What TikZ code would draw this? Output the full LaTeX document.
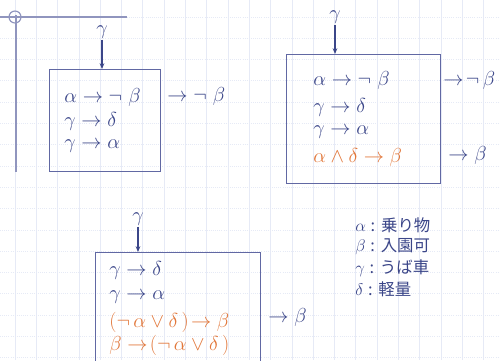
\documentclass[tikz,border=0pt]{standalone}
\usepackage{fontspec}
\newfontfamily\jpfont{Noto Sans CJK JP}
\usepackage{tikz}
\usetikzlibrary{calc,positioning,arrows.meta}
\definecolor{ink}{HTML}{3B4689}
\definecolor{hot}{HTML}{E2773A}
\definecolor{gridc}{HTML}{E6EAF6}
\definecolor{framec}{HTML}{6168A3}

\begin{document}
\begin{tikzpicture}[x=0.03cm,y=-0.03cm]

     \tikzstyle{every node}=[text=ink,inner sep=1pt,font=\fontsize{17.5}{21}\selectfont]
     \tikzstyle{box}=[draw=framec,line width=1.2pt,anchor=north west,inner sep=0pt]
     \tikzstyle{row}=[anchor=west]
     \tikzstyle{feed}=[draw=ink,line width=0.9pt,-{Stealth[length=5pt,width=4pt]}]
     \tikzstyle{key}=[anchor=west,font=\fontsize{14}{18}\selectfont\jpfont]
     \useasboundingbox (0,0) rectangle (500,360);
     \fill[white] (0,0) rectangle (500,360);

     % paper grid
     \foreach \k in {0,...,23}
       \draw[gridc,line width=0.6pt] (15+21.3*\k,0) -- (15+21.3*\k,360);
     \foreach \k in {-1,...,16}
       \draw[gridc,line width=0.8pt,densely dotted] (0,17+21.3*\k) -- (500,17+21.3*\k);
     \draw[framec!70,line width=1pt] (0,17) -- (127,17);
     \draw[framec!70,line width=1pt] (16,15) -- (16,172);
     \draw[framec!70,line width=1pt] (15,17) circle [radius=6];

     % first box
     \node[box,minimum width=3.33cm,minimum height=3.06cm] at (49,69)(box1){};
     \node at ($(box1.north west)+(14,28)$)[row](r11){$\alpha\rightarrow\neg\ \beta$};
     \node at ($(box1.north west)+(14,52)$)[row](r12){$\gamma\rightarrow\delta$};
     \node at ($(box1.north west)+(14,77)$)[row](r13){$\gamma\rightarrow\alpha$};
     \node at (166,96)[row](out1){$\rightarrow\neg\ \beta$};
     \node at (102,32)(gam1){$\gamma$};
     \draw[feed](gam1.south)--(gam1.south|-box1.north);

     % second box
     \node[box,minimum width=4.62cm,minimum height=3.87cm] at (286,54)(box2){};
     \node at ($(box2.north west)+(26,26)$)[row](r21){$\alpha\rightarrow\neg\ \beta$};
     \node at ($(box2.north west)+(26,53)$)[row](r22){$\gamma\rightarrow\delta$};
     \node at ($(box2.north west)+(26,78)$)[row](r23){$\gamma\rightarrow\alpha$};
     \node at ($(box2.north west)+(26,103)$)[row,text=hot](r24){$\alpha\wedge\delta\rightarrow\beta$};
     \node at (442,80)[row](out21){$\rightarrow\!\neg\,\beta$};
     \node at (447,155)[row](out22){$\rightarrow\beta$};
     \node at (335,17)(gam2){$\gamma$};
     \draw[feed](gam2.south)--(gam2.south|-box2.north);

     % third box
     \node[box,minimum width=4.95cm,minimum height=3.45cm] at (95,252)(box3){};
     \node at ($(box3.north west)+(13,18)$)[row](r31){$\gamma\rightarrow\delta$};
     \node at ($(box3.north west)+(13,45)$)[row](r32){$\gamma\rightarrow\alpha$};
     \node at ($(box3.north west)+(13,70)$)[row,text=hot](r33){$(\neg\,\alpha\vee\delta\,)\!\rightarrow\beta$};
     \node at ($(box3.north west)+(13,93)$)[row,text=hot](r34){$\beta\rightarrow\!(\neg\,\alpha\vee\delta\,)$};
     \node at (267,317)[row](out3){$\rightarrow\beta$};
     \node at (138,219)(gam3){$\gamma$};
     \draw[feed](gam3.south)--(gam3.south|-box3.north);

     % legend
     \node at (354,225)[key](k1){$\alpha$\hspace{4pt}:\hspace{5pt}乗り物};
     \node at (354,247)[key](k2){$\beta$\hspace{4pt}:\hspace{5pt}入園可};
     \node at (354,268)[key](k3){$\gamma$\hspace{4pt}:\hspace{5pt}うば車};
     \node at (354,289)[key](k4){$\delta$\hspace{4pt}:\hspace{5pt}軽量};

\end{tikzpicture}
\end{document}
